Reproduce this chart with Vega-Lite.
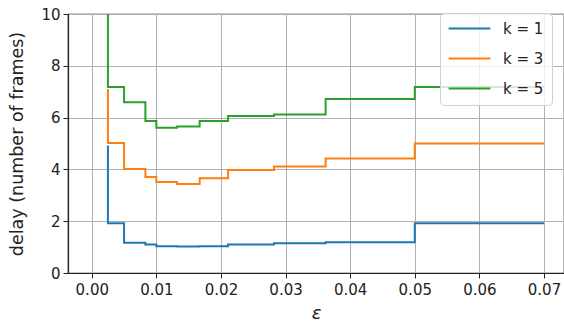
{
  "$schema": "https://vega.github.io/schema/vega-lite/v6.json",
  "autosize": {"type": "none"},
  "padding": {"left": 68, "top": 14, "right": 0, "bottom": 48},
  "width": 496,
  "height": 259,
  "background": "white",
  "config": {
    "font": "DejaVu Sans",
    "view": {"stroke": "#222222", "strokeWidth": 1.2},
    "axis": {
      "grid": true,
      "gridColor": "#b0b0b0",
      "gridWidth": 1,
      "domainColor": "#222222",
      "domainWidth": 1.2,
      "tickColor": "#222222",
      "tickSize": 5,
      "labelColor": "#222222",
      "titleColor": "#222222",
      "labelFont": "DejaVu Sans",
      "titleFont": "DejaVu Sans",
      "labelFontSize": 15,
      "titleFontWeight": "normal"
    }
  },
  "data": {
    "values": [
      {"eps": 0.0025, "delay": 4.92, "series": "k=1"},
      {"eps": 0.005, "delay": 1.92, "series": "k=1"},
      {"eps": 0.0083, "delay": 1.17, "series": "k=1"},
      {"eps": 0.01, "delay": 1.10, "series": "k=1"},
      {"eps": 0.0132, "delay": 1.03, "series": "k=1"},
      {"eps": 0.0167, "delay": 1.02, "series": "k=1"},
      {"eps": 0.0211, "delay": 1.03, "series": "k=1"},
      {"eps": 0.0282, "delay": 1.10, "series": "k=1"},
      {"eps": 0.0362, "delay": 1.15, "series": "k=1"},
      {"eps": 0.05, "delay": 1.19, "series": "k=1"},
      {"eps": 0.07, "delay": 1.92, "series": "k=1"},
      {"eps": 0.0025, "delay": 7.1, "series": "k=3"},
      {"eps": 0.005, "delay": 5.02, "series": "k=3"},
      {"eps": 0.0083, "delay": 4.02, "series": "k=3"},
      {"eps": 0.01, "delay": 3.71, "series": "k=3"},
      {"eps": 0.0132, "delay": 3.51, "series": "k=3"},
      {"eps": 0.0167, "delay": 3.44, "series": "k=3"},
      {"eps": 0.0211, "delay": 3.66, "series": "k=3"},
      {"eps": 0.0282, "delay": 3.98, "series": "k=3"},
      {"eps": 0.0362, "delay": 4.11, "series": "k=3"},
      {"eps": 0.05, "delay": 4.42, "series": "k=3"},
      {"eps": 0.07, "delay": 5.0, "series": "k=3"},
      {"eps": 0.0025, "delay": 12, "series": "k=5"},
      {"eps": 0.005, "delay": 7.18, "series": "k=5"},
      {"eps": 0.0083, "delay": 6.59, "series": "k=5"},
      {"eps": 0.01, "delay": 5.87, "series": "k=5"},
      {"eps": 0.0132, "delay": 5.61, "series": "k=5"},
      {"eps": 0.0167, "delay": 5.66, "series": "k=5"},
      {"eps": 0.0211, "delay": 5.87, "series": "k=5"},
      {"eps": 0.0282, "delay": 6.06, "series": "k=5"},
      {"eps": 0.0362, "delay": 6.12, "series": "k=5"},
      {"eps": 0.05, "delay": 6.72, "series": "k=5"},
      {"eps": 0.07, "delay": 7.18, "series": "k=5"}
    ]
  },
  "mark": {"type": "line", "interpolate": "step-before", "strokeWidth": 2, "clip": true},
  "encoding": {
    "x": {
      "field": "eps",
      "type": "quantitative",
      "scale": {"domain": [-0.00368, 0.0731], "nice": false, "zero": false},
      "axis": {
        "values": [0, 0.01, 0.02, 0.03, 0.04, 0.05, 0.06, 0.07],
        "format": ".2f",
        "labelPadding": 4,
        "title": "ε",
        "titleFontSize": 18,
        "titleFontStyle": "italic",
        "titlePadding": 7
      }
    },
    "y": {
      "field": "delay",
      "type": "quantitative",
      "scale": {"domain": [0, 10], "nice": false},
      "axis": {
        "values": [0, 2, 4, 6, 8, 10],
        "format": "d",
        "labelPadding": 3,
        "title": "delay (number of frames)",
        "titleFontSize": 17.5,
        "titlePadding": 14
      }
    },
    "color": {
      "field": "series",
      "type": "nominal",
      "scale": {"domain": ["k=1", "k=3", "k=5"], "range": ["#1f77b4", "#ff7f0e", "#2ca02c"]},
      "legend": {
        "title": null,
        "orient": "none",
        "legendX": 372,
        "legendY": -1,
        "fillColor": "rgba(255,255,255,0.8)",
        "strokeColor": "#d0d0d0",
        "cornerRadius": 4,
        "padding": 8,
        "symbolType": "M-5,0H5",
        "symbolSize": 70,
        "symbolStrokeWidth": 2,
        "symbolOffset": 14,
        "labelFontSize": 15,
        "labelColor": "#222222",
        "labelOffset": 26,
        "rowPadding": 14,
        "labelExpr": "replace(datum.label, '=', ' = ')"
      }
    }
  }
}
